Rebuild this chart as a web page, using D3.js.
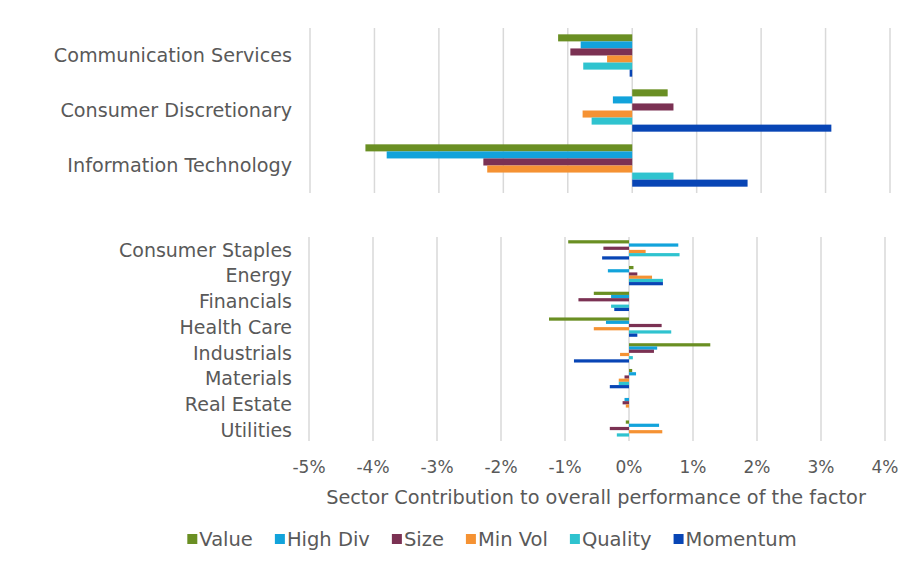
<!DOCTYPE html>
<html>
<head>
<meta charset="utf-8">
<script src="https://cdn.jsdelivr.net/npm/d3@7"></script>
<style>
  body { margin: 0; background: #fff; }
  svg text { font-family: "DejaVu Sans", sans-serif; fill: #595959; }
</style>
</head>
<body>
<svg id="chart" width="917" height="575"></svg>
<script>
// factor series, top to bottom inside each sector
var series = ["Value", "High Div", "Size", "Min Vol", "Quality", "Momentum"];
var colors = ["#6a8f23", "#12a3db", "#7b3153", "#f59233", "#2fc3cf", "#0845b5"];

// upper panel: the three big sectors (% contribution)
var topSectors = ["Communication Services", "Consumer Discretionary", "Information Technology"];
var topValues = [
	[-1.15, -0.80, -0.96, -0.39, -0.76, -0.04],
	[0.55, -0.30, 0.64, -0.77, -0.63, 3.09],
	[-4.14, -3.81, -2.31, -2.25, 0.64, 1.79]
];

// lower panel: the rest of the sectors
var bottomSectors = ["Consumer Staples", "Energy", "Financials", "Health Care",
	"Industrials", "Materials", "Real Estate", "Utilities"];
var bottomValues = [
	[-0.95, 0.77, -0.40, 0.26, 0.79, -0.42],
	[0.07, -0.33, 0.13, 0.36, 0.53, 0.53],
	[-0.55, -0.28, -0.79, 0.00, -0.28, -0.23],
	[-1.25, -0.36, 0.51, -0.55, 0.66, 0.13],
	[1.27, 0.44, 0.39, -0.14, 0.06, -0.86],
	[0.05, 0.11, -0.07, -0.16, -0.16, -0.30],
	[0.00, -0.07, -0.10, -0.05, 0.00, 0.00],
	[-0.05, 0.47, -0.30, 0.52, -0.19, 0.00]
];

var xTicks = [-5, -4, -3, -2, -1, 0, 1, 2, 3, 4];
var axisTitle = "Sector Contribution to overall performance of the factor";

var svg = d3.select("#chart");

// Draw one panel of grouped horizontal bars
function drawPanel(cats, values, xRange, yRange, gridTop, gridBottom, labelSize, padIn) {
	var x = d3.scaleLinear().domain([-5, 4]).range(xRange);
	var y = d3.scaleBand().domain(cats).range(yRange)
		.paddingInner(padIn).paddingOuter(padIn / 2);
	var inner = d3.scaleBand().domain(series).range([0, y.bandwidth()]);

	var g = svg.append("g");

	// vertical gridlines
	g.selectAll(".grid")
		.data(xTicks)
		.enter().append("line")
		.attr("x1", function(d) { return x(d); })
		.attr("x2", function(d) { return x(d); })
		.attr("y1", gridTop)
		.attr("y2", gridBottom)
		.attr("stroke", "#d9d9d9")
		.attr("stroke-width", 1.5);

	// bars
	cats.forEach(function(cat, i) {
		g.selectAll(".bar" + i)
			.data(values[i])
			.enter().append("rect")
			.attr("x", function(d) { return x(Math.min(0, d)); })
			.attr("y", function(d, j) { return y(cat) + inner(series[j]); })
			.attr("width", function(d) { return Math.abs(x(d) - x(0)); })
			.attr("height", inner.bandwidth())
			.attr("fill", function(d, j) { return colors[j]; });
	});

	// category labels
	g.selectAll(".cat")
		.data(cats)
		.enter().append("text")
		.attr("x", 292)
		.attr("y", function(d) { return y(d) + y.bandwidth() / 2; })
		.attr("dy", ".35em")
		.attr("text-anchor", "end")
		.style("font-size", labelSize + "px")
		.text(function(d) { return d; });

	return x;
}

drawPanel(topSectors, topValues, [310, 890], [28, 193], 28, 193, 19.2, 0.23);
var xb = drawPanel(bottomSectors, bottomValues, [309, 885], [237, 443], 237, 441, 19, 0.25);

// x tick labels under the lower panel
svg.selectAll(".tick-label")
	.data(xTicks)
	.enter().append("text")
	.attr("x", function(d) { return xb(d); })
	.attr("y", 467)
	.attr("dy", ".35em")
	.attr("text-anchor", "middle")
	.style("font-size", "17px")
	.text(function(d) { return d + "%"; });

svg.append("text")
	.attr("x", 596)
	.attr("y", 497)
	.attr("dy", ".35em")
	.attr("text-anchor", "middle")
	.style("font-size", "19.3px")
	.text(axisTitle);

// legend, laid out from measured text widths and centred
var legend = svg.append("g");
var lx = 0;
series.forEach(function(s, i) {
	legend.append("rect")
		.attr("x", lx)
		.attr("y", 534)
		.attr("width", 10)
		.attr("height", 10)
		.attr("fill", colors[i]);
	var t = legend.append("text")
		.attr("x", lx + 12)
		.attr("y", 539)
		.attr("dy", ".35em")
		.style("font-size", "19.5px")
		.text(s);
	lx += 12 + t.node().getComputedTextLength() + 22;
});
lx -= 22;
legend.attr("transform", "translate(" + (492 - lx / 2) + ",0)");
</script>
</body>
</html>
